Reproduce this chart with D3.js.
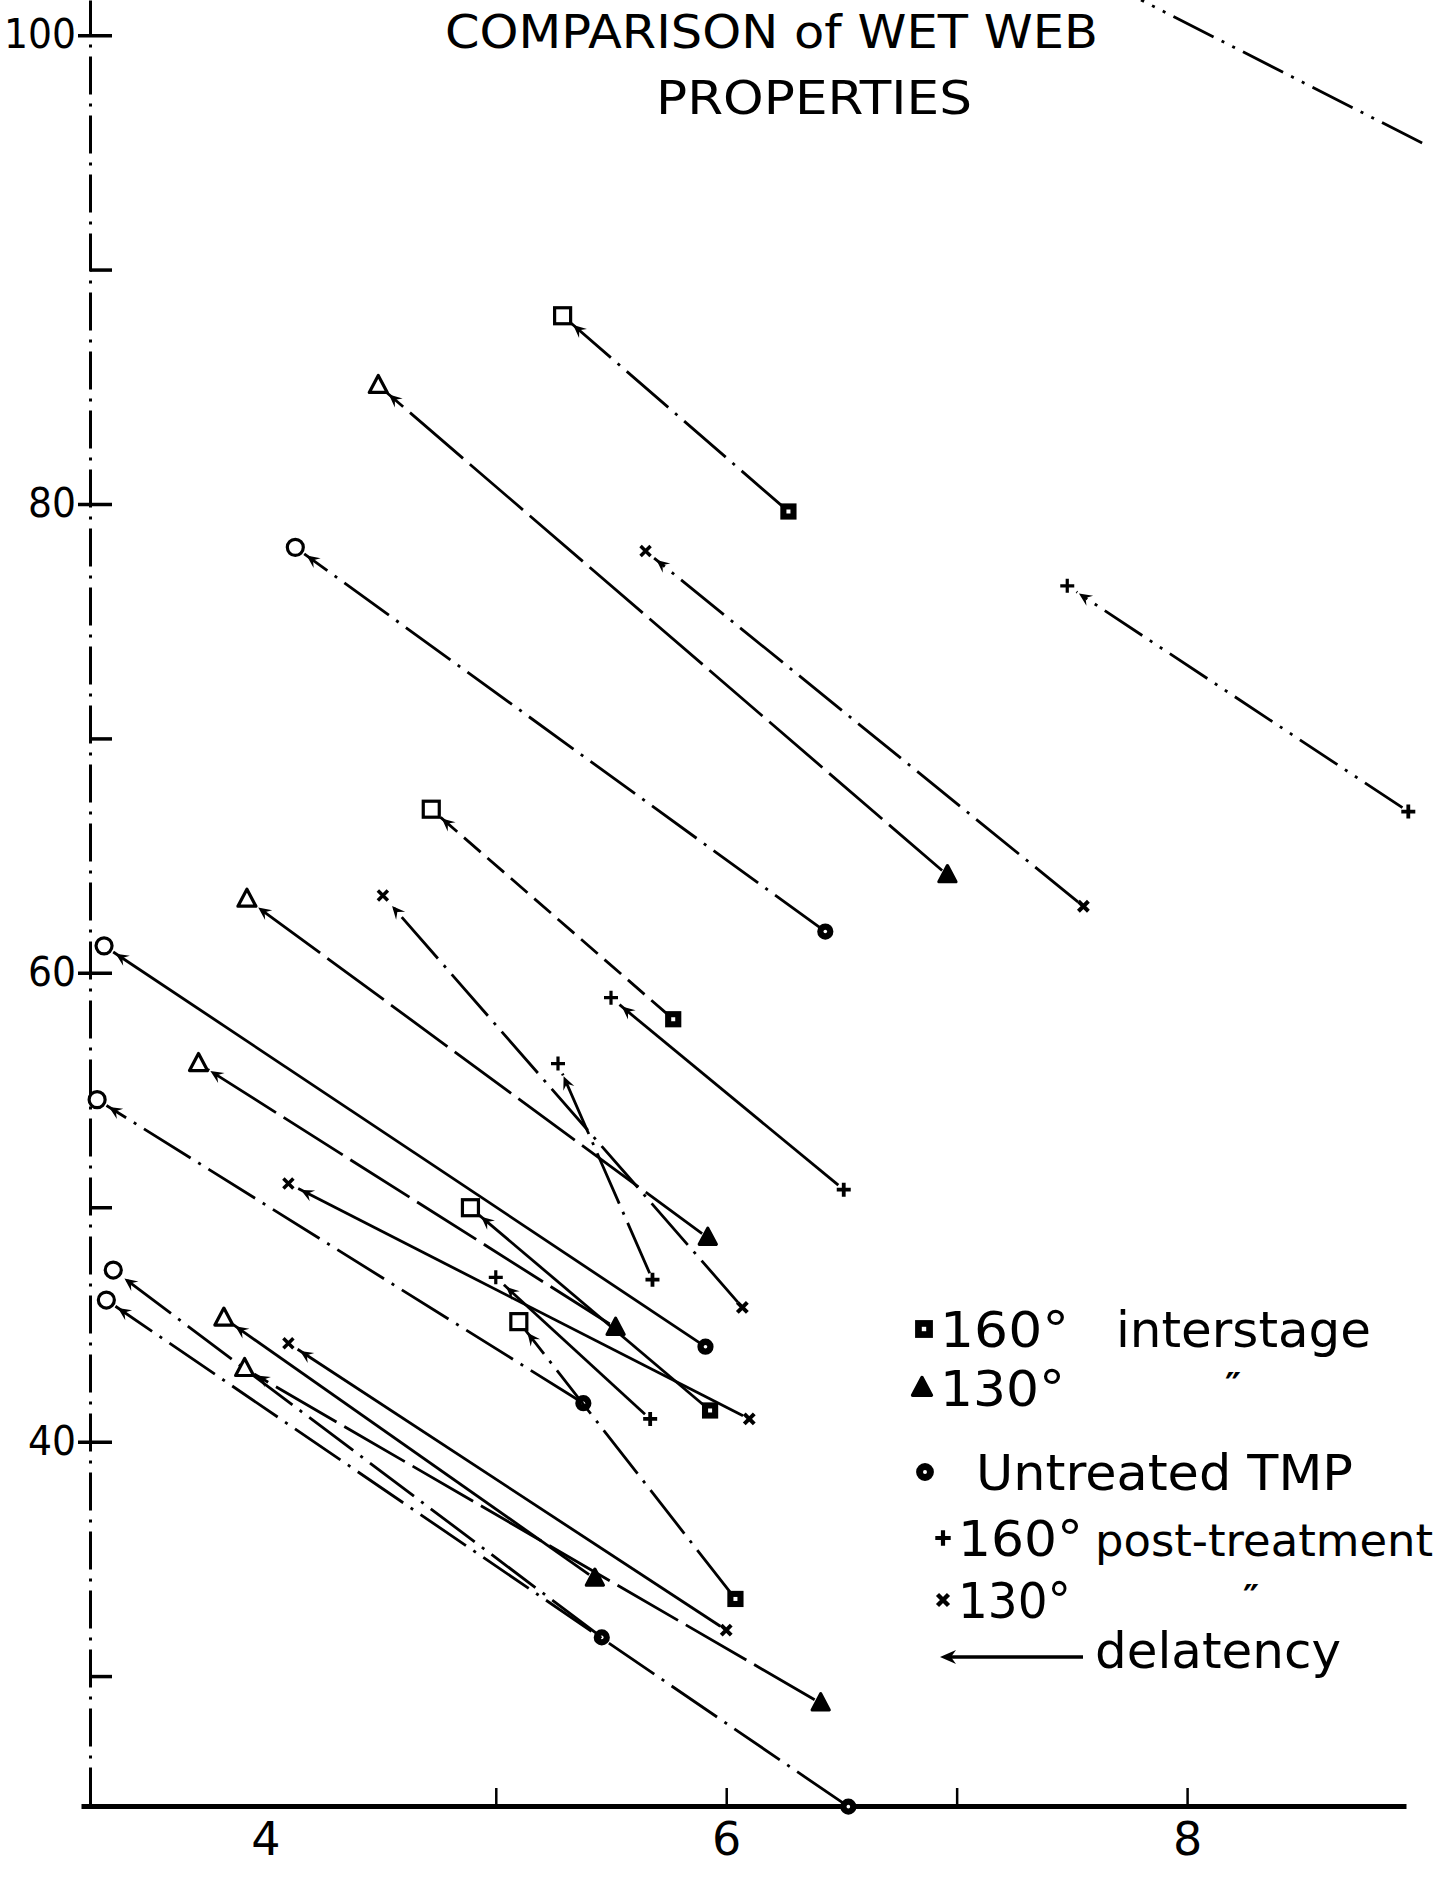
<!DOCTYPE html>
<html>
<head>
<meta charset="utf-8">
<script src="https://cdn.jsdelivr.net/npm/d3@7"></script>
<style>
body { margin: 0; background: #fff; }
text { font-family: "DejaVu Sans", sans-serif; fill: #000; }
</style>
</head>
<body>
<div class="chart"></div>
<script>
var width = 1445;
var height = 1877;

// each segment: filled marker (before delatency) -> open marker (after delatency)
var pointType = ["none", "square", "triangle", "circle", "cross", "plus",
  "square", "triangle", "cross", "circle", "plus", "plus", "triangle",
  "circle", "cross", "square", "plus", "square", "circle", "circle",
  "triangle", "triangle", "cross"];
var afterX  = [7.80, 5.29, 4.49, 4.13, 5.65, 7.48, 4.72, 3.92, 4.51, 3.30, 5.50, 5.27,
  3.71, 3.27, 4.10, 4.89, 5.00, 5.10, 3.34, 3.31, 3.82, 3.91, 4.10];
var afterY  = [101.5, 88.03, 85.06, 78.15, 77.99, 76.51, 66.98, 63.14, 63.30, 61.15, 58.94, 56.13,
  56.13, 54.59, 51.01, 49.98, 47.01, 45.12, 47.32, 46.04, 45.27, 43.12, 44.20];
var beforeX = [9.02, 6.27, 6.96, 6.43, 7.55, 8.96, 5.77, 5.92, 6.07, 5.91, 6.51, 5.68,
  5.52, 5.38, 6.10, 5.93, 5.67, 6.04, 5.46, 6.53, 5.43, 6.41, 6.00];
var beforeY = [95.4, 79.68, 64.17, 61.76, 62.84, 66.88, 58.02, 48.70, 45.73, 44.05, 50.75, 46.91,
  44.86, 41.64, 40.97, 41.33, 40.97, 33.29, 31.65, 24.43, 34.16, 28.84, 31.96];
var lineKind = ["dashdotdot", "dashdot", "longdash", "dashdot", "dashdot", "dashdotdot",
  "dashed", "longdash", "dashdot", "solid", "solid", "dashdot", "longdash", "dashdot",
  "solid", "solid", "solid", "dashdot", "dashdot", "dashdot", "solid", "longdash", "solid"];

var yTicks = [30, 40, 50, 60, 70, 80, 90, 100];
var yLabels = [40, 60, 80, 100];
var xTicks = [4, 5, 6, 7, 8];
var xLabels = [4, 6, 8];

var titleLines = ["COMPARISON of WET WEB", "PROPERTIES"];

var legendSymbols = ["square", "triangle", "circle", "plus", "cross", "arrow"];
var legendNames = ["160°", "130°", "Untreated TMP", "160°", "130°", "delatency"];
var legendNotes = ["interstage", "\u2033", "", "post-treatment", "\u2033", ""];

////////////////////////////////////////////

var dashes = {
  solid: null,
  longdash: "70,9",
  dashed: "22,9",
  dashdot: "55,9,3,9",
  dashdotdot: "45,9,3,9,3,9"
};

var x = d3.scaleLinear().domain([3.2, 8.95]).range([81, 1406]);
var y = d3.scaleLinear().domain([24.5, 101.5]).range([1805, 0]);

var svg = d3.select(".chart").append("svg")
    .attr("width", width)
    .attr("height", height);

// title
svg.selectAll("text.title")
    .data(titleLines)
  .enter().append("text")
    .attr("class", "title")
    .attr("x", function(d, i){ return i == 0 ? 445 : 656; })
    .attr("y", function(d, i){ return i == 0 ? 48 : 114; })
    .attr("textLength", function(d, i){ return i == 0 ? 653 : 316; })
    .attr("lengthAdjust", "spacingAndGlyphs")
    .style("font-size", "46px")
    .text(function(d){ return d; });

// y axis
var yAxis = d3.axisLeft(y)
    .tickValues(yTicks)
    .tickSizeInner(-22)
    .tickSizeOuter(0)
    .tickPadding(14)
    .tickFormat(function(d){ return yLabels.indexOf(d) >= 0 ? d : ""; });

var gy = svg.append("g")
    .attr("transform", "translate(90,0)")
    .call(yAxis);
gy.select(".domain")
    .attr("stroke", "#000")
    .attr("stroke-width", 3)
    .attr("stroke-dasharray", "38,9,3,9");
gy.selectAll(".tick line")
    .attr("stroke", "#000")
    .attr("stroke-width", 3.5)
    .attr("x1", function(d){ return yLabels.indexOf(d) >= 0 ? -12 : 0; });
gy.selectAll(".tick text")
    .style("font-size", "40px")
    .style("font-family", "DejaVu Sans, sans-serif")
    .attr("fill", "#000")
    .attr("textLength", function(d){ return yLabels.indexOf(d) >= 0 ? String(d).length * 24 : null; })
    .attr("lengthAdjust", "spacingAndGlyphs");

// x axis
var xAxis = d3.axisBottom(x)
    .tickValues(xTicks)
    .tickSizeInner(-18)
    .tickSizeOuter(0)
    .tickPadding(16)
    .tickFormat(function(d){ return xLabels.indexOf(d) >= 0 ? d : ""; });

var gx = svg.append("g")
    .attr("transform", "translate(0,1806)")
    .call(xAxis);
gx.select(".domain")
    .attr("stroke", "#000")
    .attr("stroke-width", 5);
gx.selectAll(".tick line")
    .attr("stroke", "#000")
    .attr("stroke-width", 2.5)
    .filter(function(d){ return d == 4; })
    .remove();
gx.selectAll(".tick text")
    .style("font-size", "46px")
    .style("font-family", "DejaVu Sans, sans-serif")
    .attr("fill", "#000");

// marker drawing
function drawMarker(g, type, cx, cy, filled, size) {
  var s = size || 1;
  var m = g.append("g").attr("transform", "translate(" + cx + "," + cy + ") scale(" + s + ")");
  var fill = filled ? "#000" : "#fff";
  if (type == "circle") {
    m.append("circle").attr("r", filled ? 6.5 : 8)
      .attr("fill", fill).attr("stroke", "#000").attr("stroke-width", 3.2);
    if (filled) m.append("circle").attr("r", 1.8).attr("fill", "#fff");
  } else if (type == "square") {
    var h = filled ? 6.5 : 8;
    m.append("rect").attr("x", -h).attr("y", -h).attr("width", 2 * h).attr("height", 2 * h)
      .attr("fill", fill).attr("stroke", "#000").attr("stroke-width", 3.2);
    if (filled) m.append("rect").attr("x", -2).attr("y", -2).attr("width", 4).attr("height", 4).attr("fill", "#fff");
  } else if (type == "triangle") {
    var t = filled ? 9.5 : 10;
    m.append("path")
      .attr("d", "M0," + (-t) + " L" + (t * 0.9) + "," + (t * 0.7) + " L" + (-t * 0.9) + "," + (t * 0.7) + " Z")
      .attr("fill", fill).attr("stroke", "#000").attr("stroke-width", 3.2)
      .attr("stroke-linejoin", "round");
  } else if (type == "plus") {
    var p = 7;
    m.append("path").attr("d", "M" + (-p) + ",0 L" + p + ",0 M0," + (-p) + " L0," + p)
      .attr("stroke", "#000").attr("stroke-width", filled ? 3.8 : 3.2);
  } else if (type == "cross") {
    var c = 5;
    m.append("path").attr("d", "M" + (-c) + "," + (-c) + " L" + c + "," + c + " M" + c + "," + (-c) + " L" + (-c) + "," + c)
      .attr("stroke", "#000").attr("stroke-width", filled ? 4 : 3.5);
  }
}

// delatency segments
var segs = svg.append("g").attr("class", "segments");

pointType.forEach(function(type, i) {
  var x0 = x(beforeX[i]), y0 = y(beforeY[i]);
  var x1 = x(afterX[i]), y1 = y(afterY[i]);
  var dx = x1 - x0, dy = y1 - y0;
  var len = Math.sqrt(dx * dx + dy * dy);
  var ux = dx / len, uy = dy / len;
  var gapEnd = type == "none" ? 0 : 11;
  var gapStart = type == "none" ? 0 : 7;

  segs.append("line")
    .attr("x1", x0 + ux * gapStart).attr("y1", y0 + uy * gapStart)
    .attr("x2", x1 - ux * gapEnd).attr("y2", y1 - uy * gapEnd)
    .attr("stroke", "#000")
    .attr("stroke-width", 2.8)
    .attr("stroke-dasharray", dashes[lineKind[i]]);

  if (type == "none") return;

  var ang = Math.atan2(dy, dx) * 180 / Math.PI;
  var ax = x1 - ux * 14, ay = y1 - uy * 14;
  segs.append("path")
    .attr("d", "M0,0 L-13,-6 L-8,0 L-13,6 Z")
    .attr("transform", "translate(" + ax + "," + ay + ") rotate(" + ang + ")")
    .attr("fill", "#000");

  drawMarker(segs, type, x1, y1, false);
  drawMarker(segs, type, x0, y0, true);
});

// legend
var rowY = [1347, 1406, 1490, 1556, 1618, 1668];
var symX = [924, 922, 925, 943, 943, 0];
var nameX = [940, 940, 976, 958, 958, 1095];
var nameLen = [129, 125, 377, 125, 113, 246];
var noteX = [1116, 1225, 0, 1095, 1243, 0];
var noteLen = [255, 0, 0, 338, 0, 0];
var noteSize = [50, 36, 0, 44, 36, 0];

var legend = svg.append("g").attr("class", "legend");

legendSymbols.forEach(function(sym, i) {
  if (sym == "arrow") {
    legend.append("line")
      .attr("x1", 950).attr("y1", rowY[i] - 11)
      .attr("x2", 1083).attr("y2", rowY[i] - 11)
      .attr("stroke", "#000").attr("stroke-width", 3.5);
    legend.append("path")
      .attr("d", "M0,0 L16,-7 L11,0 L16,7 Z")
      .attr("transform", "translate(940," + (rowY[i] - 11) + ")")
      .attr("fill", "#000");
  } else {
    drawMarker(legend, sym, symX[i], rowY[i] - 18, true, 1.1);
  }
  legend.append("text")
    .attr("x", nameX[i])
    .attr("y", rowY[i])
    .attr("textLength", nameLen[i])
    .attr("lengthAdjust", "spacingAndGlyphs")
    .style("font-size", "50px")
    .text(legendNames[i]);
  if (legendNotes[i]) {
    var t = legend.append("text")
      .attr("x", noteX[i])
      .attr("y", rowY[i] - (noteLen[i] ? 0 : 8))
      .style("font-size", noteSize[i] + "px")
      .style("font-weight", noteLen[i] ? "normal" : "bold")
      .text(legendNotes[i]);
    if (noteLen[i]) t.attr("textLength", noteLen[i]).attr("lengthAdjust", "spacingAndGlyphs");
  }
});
</script>
</body>
</html>
